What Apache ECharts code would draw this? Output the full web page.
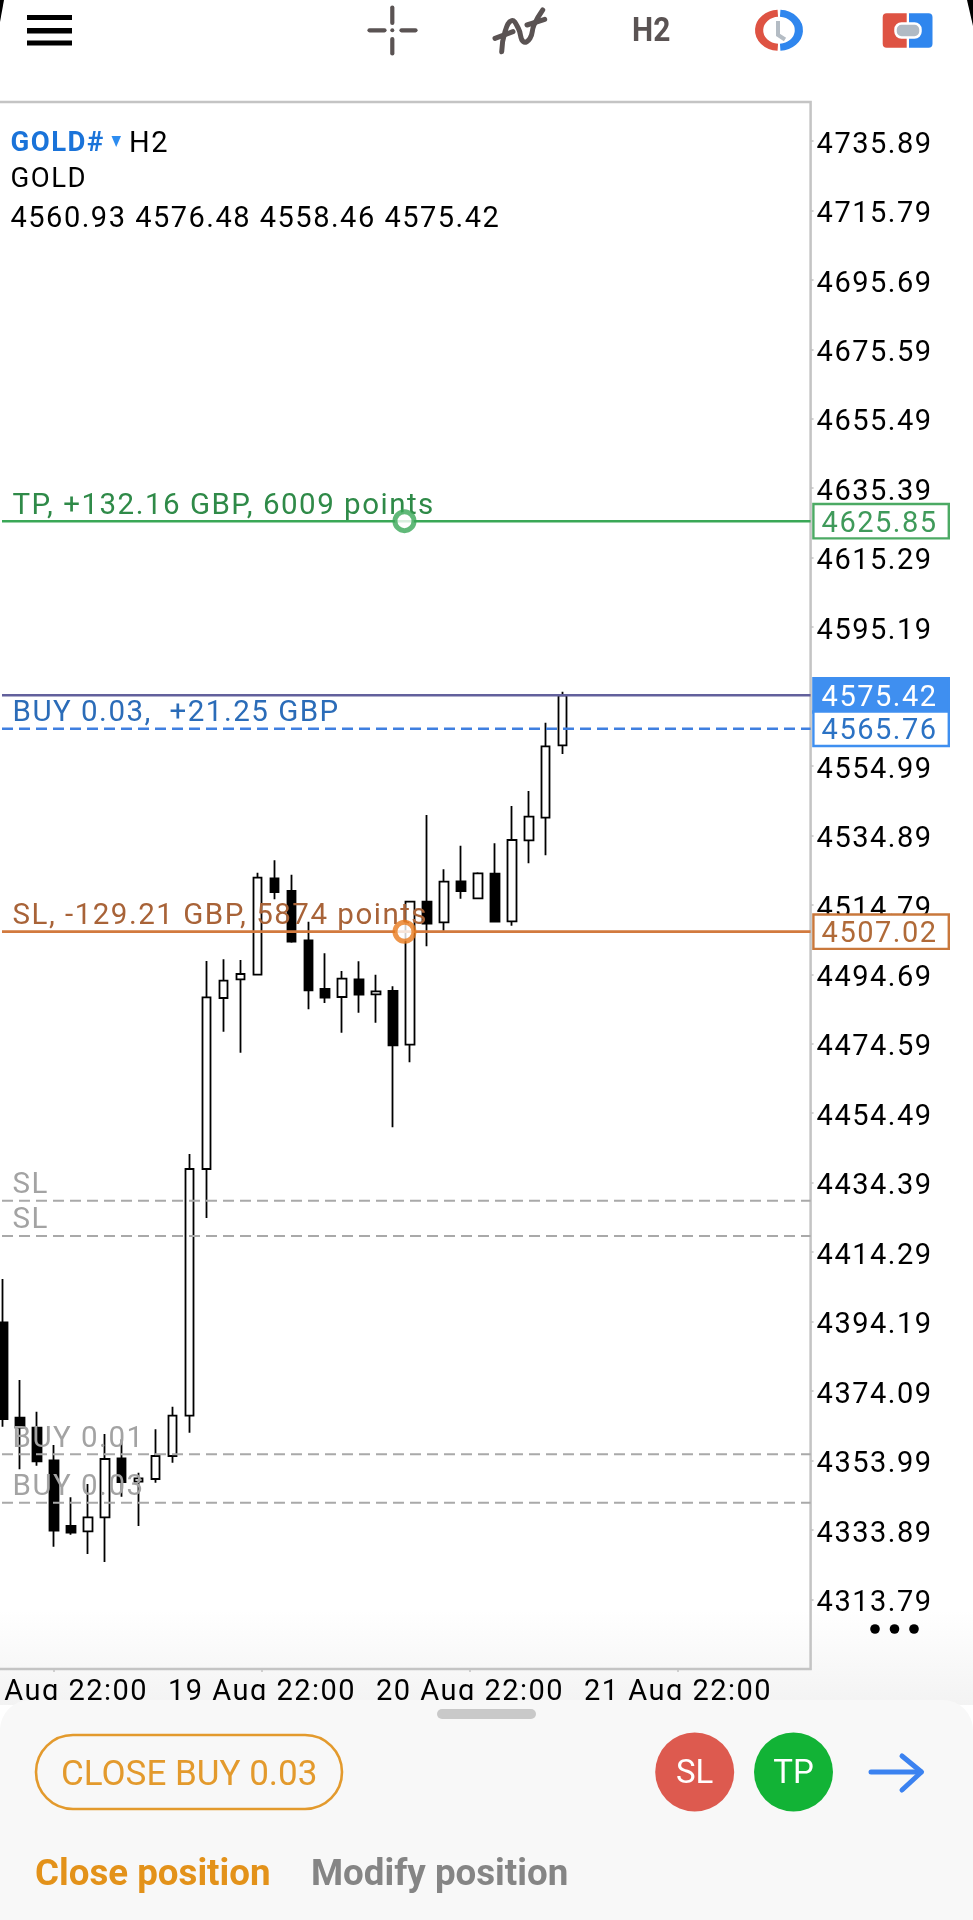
<!DOCTYPE html>
<html><head><meta charset="utf-8">
<style>html,body{margin:0;padding:0;background:#fff}#c{width:973px;height:1920px}</style>
<script src="https://cdn.jsdelivr.net/npm/echarts@6/dist/echarts.min.js"></script>
</head><body><div id="c"></div>
<script>
// [open, close, low, high]
const candles = [
[4393.97,4365.98,4363.75,4406.50],[4366.35,4363.46,4351.42,4377.27],[4363.46,4353.74,4352.46,4368.09],
[4354.02,4333.65,4329.02,4358.45],[4335.01,4333.07,4332.49,4343.32],[4333.47,4337.53,4326.90,4347.16],
[4337.53,4354.40,4324.59,4361.64],[4354.60,4347.74,4343.49,4360.10],[4347.83,4348.81,4335.01,4350.44],
[4348.61,4355.27,4347.54,4363.00],[4355.27,4366.93,4353.33,4369.54],[4366.93,4438.34,4362.01,4442.68],
[4438.34,4488.03,4424.15,4498.54],[4487.83,4492.84,4478.08,4499.03],[4493.24,4494.78,4472.00,4498.83],
[4494.57,4522.65,4494.40,4524.10],[4522.48,4518.51,4516.40,4527.69],[4518.80,4504.13,4503.84,4523.52],
[4504.53,4490.06,4484.56,4509.91],[4490.44,4487.92,4486.38,4500.77],[4488.12,4493.42,4477.79,4495.65],
[4493.24,4488.79,4483.58,4498.45],[4488.90,4489.77,4480.68,4494.57],[4489.86,4474.14,4450.41,4491.22],
[4474.31,4515.70,4469.22,4515.91],[4515.70,4509.34,4502.79,4540.80],[4509.74,4521.49,4507.31,4525.08],
[4521.61,4518.80,4516.57,4531.91],[4516.69,4523.92,4516.69,4524.21],[4523.81,4509.91,4509.91,4532.61],
[4510.03,4533.56,4508.76,4543.40],[4533.47,4540.31,4526.82,4547.74],[4540.02,4560.68,4529.13,4567.51],
[4560.93,4575.42,4558.46,4576.48]];
const slots = Array.from({length:48},(_,i)=>String(i));
const priceTicks = [4735.89,4715.79,4695.69,4675.59,4655.49,4635.39,4615.29,4595.19,4554.99,4534.89,4514.79,4494.69,4474.59,4454.49,4434.39,4414.29,4394.19,4374.09,4353.99,4333.89,4313.79];
const dayTicks = [0,1,2,3];
const dayLabels = ['18 Aug 22:00','19 Aug 22:00','20 Aug 22:00','21 Aug 22:00'];
const priceRange = [4293.62,4747.16];
const dayRange = [-0.28365,3.6375];
const lineStart = -0.25;
const handleDay = 1.685;
const FONT='Roboto', FS=29;

function hline(price,color,width,dash,text,textColor,tag,z){
  const s={type:'line',xAxisIndex:0,yAxisIndex:0,z:z||3,silent:true,animation:false,
    symbol:'circle',symbolSize:1,showSymbol:true,itemStyle:{color:'transparent'},
    lineStyle:{color,width,type:dash?[11,6]:'solid'},
    data:[{value:[lineStart,price],label:{show:!!text,formatter:text||'',position:[11,-14.5],align:'left',verticalAlign:'middle',
      color:textColor,fontFamily:FONT,fontSize:29.5}},[dayRange[1],price]]};
  if(tag){const c=tag.color;
    s.endLabel=Object.assign({show:true,formatter:'{v|'+price.toFixed(2)+'}',distance:4,align:'left',verticalAlign:'middle',
    padding:[4,0,4,7],borderWidth:2.4,
    rich:{v:{color:c,fontFamily:FONT,fontSize:FS,width:126,height:24,lineHeight:24,padding:[8,0,1,0]}}},tag);}
  return s;
}
const series=[
 {type:'candlestick',xAxisIndex:1,yAxisIndex:1,z:2,animation:false,silent:true,barWidth:9,
  itemStyle:{color:'#fff',color0:'#000',borderColor:'#000',borderColor0:'#000',borderWidth:1.8},data:candles},
 hline(4429.16,'#a9a9a9',2,true,'SL','#a3a3a3'),
 hline(4418.95,'#a9a9a9',2,true,'SL','#a3a3a3'),
 hline(4355.76,'#a9a9a9',2,true,'BUY 0.01','#a3a3a3'),
 hline(4341.75,'#a9a9a9',2,true,'BUY 0.03','#a3a3a3'),
 hline(4625.85,'#3aa857',2.5,false,'TP, +132.16 GBP, 6009 points','#2f8a48',{color:'#3f9a5a',borderColor:'#4caa64',backgroundColor:'#fff'}),
 hline(4565.76,'#3f7fe0',2.5,true,'BUY 0.03,  +21.25 GBP','#2b6cb8',{color:'#2b72c4',borderColor:'#3f8ff0',backgroundColor:'#fff'},4),
 hline(4575.42,'#62609c',2.5,false,'','#000',{color:'#fff',borderColor:'#3f8ff0',backgroundColor:'#3f8ff0'}),
 hline(4507.02,'#d27a3e',2.8,false,'SL, -129.21 GBP, 5874 points','#a86338',{color:'#b06a38',borderColor:'#c9783c',backgroundColor:'#fff'}),
 {type:'scatter',xAxisIndex:0,yAxisIndex:0,z:5,silent:true,animation:false,symbolSize:19,
  itemStyle:{color:'#fff',borderColor:'#3aa857',borderWidth:5},data:[[handleDay,4625.85]]},
 {type:'scatter',xAxisIndex:0,yAxisIndex:0,z:5,silent:true,animation:false,symbolSize:19,
  itemStyle:{color:'#fff',borderColor:'#e87a1d',borderWidth:5},data:[[handleDay,4507.02]]}
];
const ink='#5a5353';
function seg(x1,y1,x2,y2,stroke,w,z){return {type:'line',z:z||60,shape:{x1,y1,x2,y2},style:{stroke,lineWidth:w,lineCap:'round'}};}
function txt(x,y,text,font,fill,opt){return Object.assign({type:'text',x,y,z:60,style:{text,font,fill,verticalAlign:'middle',textAlign:'left'}},opt||{});}
const graphic=[
 {type:'rect',z:-10,shape:{x:0,y:1610,width:973,height:95},style:{fill:{type:'linear',x:0,y:0,x2:0,y2:1,colorStops:[{offset:0,color:'#ffffff'},{offset:1,color:'#f3f3f3'}]}}},
 // toolbar
 {type:'rect',z:60,shape:{x:27,y:15,width:45,height:5},style:{fill:'#000'}},
 {type:'rect',z:60,shape:{x:27,y:28,width:45,height:5.5},style:{fill:'#000'}},
 {type:'rect',z:60,shape:{x:27,y:40.5,width:45,height:5},style:{fill:'#000'}},
 seg(392.3,7.5,392.3,23,ink,4.2),seg(392.3,39,392.3,53.5,ink,4.2),seg(369.5,30.3,384.5,30.3,ink,4.2),seg(401.5,30.3,415.5,30.3,ink,4.2),
 {type:'circle',z:60,shape:{cx:392.3,cy:30.3,r:2},style:{fill:ink}},
 {type:'polyline',z:60,shape:{smooth:0.5,points:[[501.7,51.7],[505,31.7],[511.7,20.7],[518.3,28.3],[523.3,41.7],[530,38.3],[534,25],[542.7,10]]},style:{stroke:ink,fill:'none',lineWidth:5,lineCap:'round'}},
 seg(495,38.3,513,31.7,ink,5),seg(527,25,544.7,19.3,ink,5),
 txt(632,32.5,'H2','bold 34px Roboto',ink,{scaleX:0.88}),
 {type:'arc',z:60,x:779,y:30.3,scaleX:1.17,shape:{cx:0,cy:0,r:17,startAngle:Math.PI/2+0.06,endAngle:Math.PI*1.5-0.06},style:{stroke:'#de5343',fill:'none',lineWidth:7}},
 {type:'arc',z:60,x:779,y:30.3,scaleX:1.17,shape:{cx:0,cy:0,r:17,startAngle:-Math.PI/2+0.06,endAngle:Math.PI/2-0.06},style:{stroke:'#2f86ee',fill:'none',lineWidth:7}},
 {type:'polyline',z:60,shape:{points:[[778,21],[778,35],[785,39.5]]},style:{stroke:'#b4bcc4',fill:'none',lineWidth:4}},
 {type:'rect',z:60,shape:{x:882.7,y:13.3,width:24,height:34.5,r:[4,0,0,4]},style:{fill:'#de5343'}},
 {type:'rect',z:60,shape:{x:909,y:13.3,width:23.5,height:34.5,r:[0,4,4,0]},style:{fill:'#2f86ee'}},
 {type:'rect',z:61,shape:{x:895.5,y:23.5,width:25,height:14,r:6},style:{fill:'#b0bac4',stroke:'#fff',lineWidth:2.5}},
 {type:'polygon',z:60,shape:{points:[[967,0],[973,0],[973,26]]},style:{fill:'#000'}},
 {type:'polygon',z:60,shape:{points:[[0,0],[4,0],[0,22]]},style:{fill:'#000'}},
 // symbol header
 txt(10.5,144.5,'GOLD#','bold 27.5px '+FONT,'#1a73d9',{z:30}),
 {type:'polygon',z:30,shape:{points:[[111.5,136],[121,136],[116.2,147]]},style:{fill:'#2d8cf0'}},
 txt(129,144.5,'H2','29px '+FONT,'#000',{z:30}),
 txt(10.5,180.5,'GOLD','27.5px '+FONT,'#000',{z:30}),
 txt(10.5,219.5,'4560.93 4576.48 4558.46 4575.42','29px '+FONT,'#000',{z:30}),
 // more dots
 {type:'circle',z:40,shape:{cx:875,cy:1629,r:4.8},style:{fill:'#000'}},
 {type:'circle',z:40,shape:{cx:894.5,cy:1629,r:4.8},style:{fill:'#000'}},
 {type:'circle',z:40,shape:{cx:914,cy:1629,r:4.8},style:{fill:'#000'}},
 // bottom sheet
 {type:'rect',z:50,shape:{x:0,y:1700,width:973,height:220,r:[30,30,0,0]},style:{fill:'#f8f8f8'}},
 {type:'rect',z:60,shape:{x:437,y:1709,width:99,height:10,r:5},style:{fill:'#c9c9c9'}},
 {type:'rect',z:60,shape:{x:36,y:1735,width:306,height:74,r:37},style:{fill:'none',stroke:'#e39a2d',lineWidth:2.6}},
 txt(61,1776.5,'CLOSE BUY 0.03','35px Roboto','#e39a2d'),
 {type:'circle',z:60,shape:{cx:694.7,cy:1772,r:39.5},style:{fill:'#dd5a4f'}},
 txt(694.7,1774.5,'SL','33px Roboto','#fff',{style:{text:'SL',font:'33px Roboto',fill:'#fff',textAlign:'center',verticalAlign:'middle'}}),
 {type:'circle',z:60,shape:{cx:793.5,cy:1772,r:39.5},style:{fill:'#12b336'}},
 txt(793.5,1774.5,'TP','33px Roboto','#fff',{style:{text:'TP',font:'33px Roboto',fill:'#fff',textAlign:'center',verticalAlign:'middle'}}),
 seg(871,1772,921,1772,'#3b82f0',5),
 {type:'polyline',z:60,shape:{points:[[902,1756],[921.5,1772],[902,1790]]},style:{stroke:'#3b82f0',fill:'none',lineWidth:5,lineCap:'round',lineJoin:'round'}},
 txt(35,1875.5,'Close position','bold 36.7px Roboto','#e3921a'),
 txt(311,1875.5,'Modify position','bold 36.7px Roboto','#858585')
];
graphic.forEach(g=>{ if(g.z>=50) g.zlevel=1; });
const option=()=>({
 animation:false,backgroundColor:'transparent',graphic:{elements:graphic.map(g=>Object.assign({},g))},
 grid:[
  {left:-5,top:102,width:815.6,height:1567,show:true,outerBoundsMode:'none',containLabel:false,borderColor:'#c4c4c4',borderWidth:2.5,backgroundColor:'transparent'},
  {left:-5.48,top:102,width:814.08,height:1567,outerBoundsMode:'none'}
 ],
 xAxis:[
  {type:'value',gridIndex:0,min:dayRange[0],max:dayRange[1],splitLine:{show:false},axisLine:{show:false,onZero:false},
   axisTick:{show:true,length:3,customValues:dayTicks,lineStyle:{color:'#c4c4c4',width:1.5}},
   axisLabel:{show:true,customValues:dayTicks,margin:9.5,color:'#000',fontFamily:FONT,fontSize:FS,hideOverlap:false,
     formatter:v=>dayLabels[Math.round(v)]}},
  {type:'category',gridIndex:1,data:slots,show:false}
 ],
 yAxis:[
  {type:'value',gridIndex:0,position:'right',min:priceRange[0],max:priceRange[1],splitLine:{show:false},axisLine:{show:false,onZero:false},
   axisTick:{show:true,length:3,customValues:priceTicks,lineStyle:{color:'#c4c4c4',width:1.5}},
   axisLabel:{show:true,customValues:priceTicks,margin:6,color:'#000',fontFamily:FONT,fontSize:FS,hideOverlap:false,verticalAlign:'top',lineHeight:9,formatter:v=>v.toFixed(2)}},
  {type:'value',gridIndex:1,min:priceRange[0],max:priceRange[1],show:false,splitLine:{show:false}}
 ],
 series
});
const chart=echarts.init(document.getElementById('c'),null,{renderer:'canvas',width:973,height:1920});
chart.setOption(option());
// the chart's own text layer is letter-spaced, as in the reference
const base=chart.getDom().querySelector('canvas');
base.getContext('2d').letterSpacing='1.5px';
chart.setOption(option(),true);
</script></body></html>
